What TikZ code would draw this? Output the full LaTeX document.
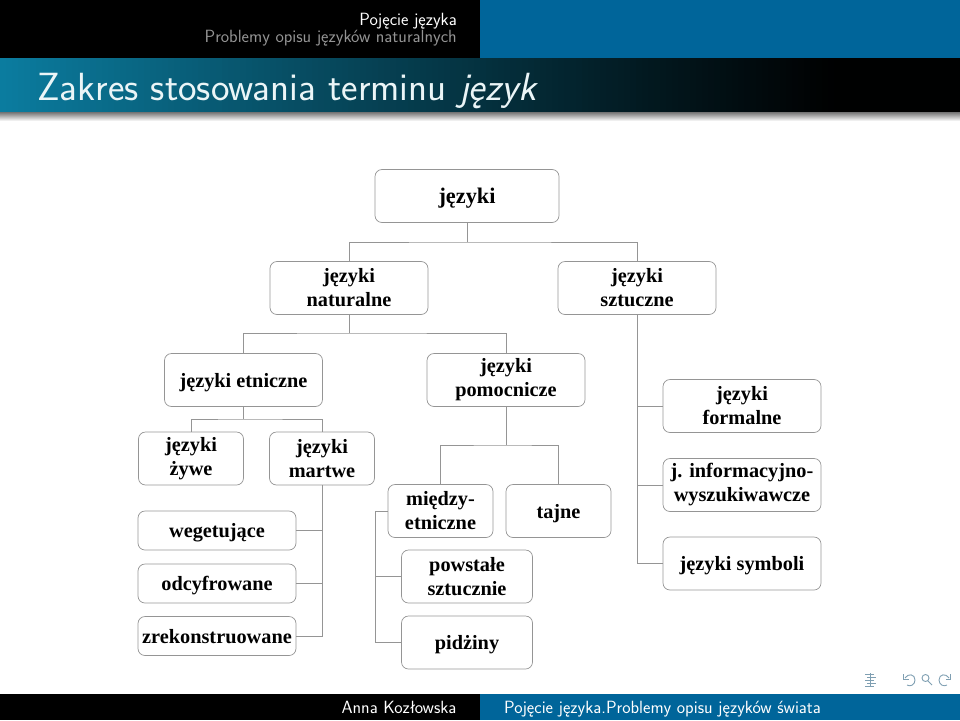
\documentclass[tikz,border=0pt]{standalone}
\usepackage{fontspec}
\newfontfamily\treefont{Liberation Serif}[BoldFont={Liberation Serif Bold}]
\definecolor{barblue}{HTML}{00659A}
\definecolor{teal1}{HTML}{0B7C9F}
\definecolor{iconc}{HTML}{7F9FB2}
\definecolor{linec}{HTML}{959595}
\tikzset{
 treebox/.style={draw=linec,line width=0.7pt,rounded corners=7pt,inner sep=0pt,align=center,
   font=\treefont\bfseries\fontsize{20.3}{24}\selectfont,text=black},
 w158/.style={treebox,minimum width=158pt,minimum height=53pt},
 w105/.style={treebox,minimum width=105pt,minimum height=53pt},
 thin158/.style={treebox,minimum width=158pt,minimum height=39pt},
 w131/.style={treebox,minimum width=131pt,minimum height=53pt},
 oneline/.style={text height=14pt,text depth=0pt},
 conn/.style={draw=linec,line width=0.8pt},
 headtext/.style={font=\sffamily\fontsize{17.7}{21}\selectfont,inner sep=0pt},
 icon/.style={draw=iconc,line width=0.9pt}
}
\begin{document}
\begin{tikzpicture}[x=1pt,y=-1pt]
\useasboundingbox (0,0) rectangle (960,720);
% header
\fill[black] (0,0) rectangle (480,58);
\fill[barblue] (480,0) rectangle (960,58);
\node[headtext,text=white,anchor=base east] (h1) at (457,25) {Pojęcie języka};
\node[headtext,text=black!42,anchor=base east] (h2) at (457,42) {Problemy opisu języków naturalnych};
% title bar
\fill[black] (0,58) rectangle (960,112);
\foreach \xx in {0,6,...,834}{
  \pgfmathsetmacro{\pp}{100*(1-\xx/840)^1.1}
  \fill[teal1!\pp!black] (\xx,58) rectangle (960,112);
}
\shade[top color=black!55,bottom color=white] (0,112) rectangle (960,121);
\node[anchor=base west,inner sep=0pt,text=white!92!teal1,font=\sffamily\fontsize{39.3}{44}\selectfont] (title) at (37,100) {Zakres stosowania terminu \textit{język}};
% nodes
\node[w158,oneline,minimum width=184pt,font=\treefont\bfseries\fontsize{22.3}{26}\selectfont] (jez) at (467,196) {języki};
\node[w158] (nat) at (349,288) {języki\\naturalne};
\node[w158] (szt) at (637,288) {języki\\sztuczne};
\node[w158,oneline] (etn) at (243.5,380) {języki etniczne};
\node[w158] (pom) at (506,380) {języki\\pomocnicze};
\node[w105] (zyw) at (191,458.5) {języki\\żywe};
\node[w105] (mar) at (322,458.5) {języki\\martwe};
\node[thin158,oneline] (weg) at (217,530.5) {wegetujące};
\node[thin158,oneline] (odc) at (217,583.5) {odcyfrowane};
\node[thin158,oneline] (zre) at (217,636) {zrekonstruowane};
\node[w105] (mie) at (440.5,511) {między-\\etniczne};
\node[w105,oneline] (taj) at (558.5,511) {tajne};
\node[w131] (pow) at (467,576.5) {powstałe\\sztucznie};
\node[w131,oneline] (pid) at (467,642.5) {pidżiny};
\node[w158] (for) at (742,406) {języki\\formalne};
\node[w158] (inf) at (742,485) {j. informacyjno-\\wyszukiwawcze};
\node[w158,oneline] (sym) at (742,563.5) {języki symboli};
% connectors
\coordinate (b1) at (467,242);
\draw[conn] (jez.south) -- (b1);
\draw[conn] (nat.north) |- (b1) -| (szt.north);
\coordinate (b2) at (349,333);
\draw[conn] (nat.south) -- (b2);
\draw[conn] (etn.north) |- (b2) -| (pom.north);
\coordinate (b3) at (243.5,419);
\draw[conn] (etn.south) -- (b3);
\draw[conn] (zyw.north) |- (b3) -| (mar.north);
\draw[conn] (mar.south) |- (zre.east);
\draw[conn] (weg.east) -- (weg.east -| mar.south);
\draw[conn] (odc.east) -- (odc.east -| mar.south);
\coordinate (b4) at (506,445);
\draw[conn] (pom.south) -- (b4);
\draw[conn] (mie.north) |- (b4) -| (taj.north);
\coordinate (b5) at (375,511);
\draw[conn] (mie.west) -- (b5);
\draw[conn] (b5) |- (pid.west);
\draw[conn] (pow.west) -- (pow.west -| b5);
\draw[conn] (szt.south) |- (sym.west);
\draw[conn] (for.west) -- (for.west -| szt.south);
\draw[conn] (inf.west) -- (inf.west -| szt.south);
% nav icons
\foreach \yy/\xa/\xb in {674/865/874,677/867/876,680/865/874,683/867/876,686/865/874}
  \draw[icon] (\xa,\yy) -- (\xb,\yy);
\draw[icon] (870,673) -- (870,687);
\draw[icon] (905,678) .. controls (908,673) and (915,674) .. (915,680) .. controls (915,685) and (910,687) .. (907,685);
\draw[icon] (903.5,674) -- (903.5,679) -- (908.5,679);
\draw[icon] (925.5,678) circle[radius=3.5pt] (928,681) -- (932,685);
\draw[icon] (949,678) .. controls (946,673) and (939,674) .. (939,680) .. controls (939,685) and (944,687) .. (947,685);
\draw[icon] (950.5,674) -- (950.5,679) -- (945.5,679);
% footer
\fill[black] (0,694) rectangle (480,720);
\fill[barblue] (480,694) rectangle (960,720);
\node[headtext,text=white,anchor=base] (f1) at (399,713) {Anna Kozłowska};
\node[headtext,text=white,anchor=base] (f2) at (662.5,713) {Pojęcie języka.Problemy opisu języków świata};
\end{tikzpicture}
\end{document}
